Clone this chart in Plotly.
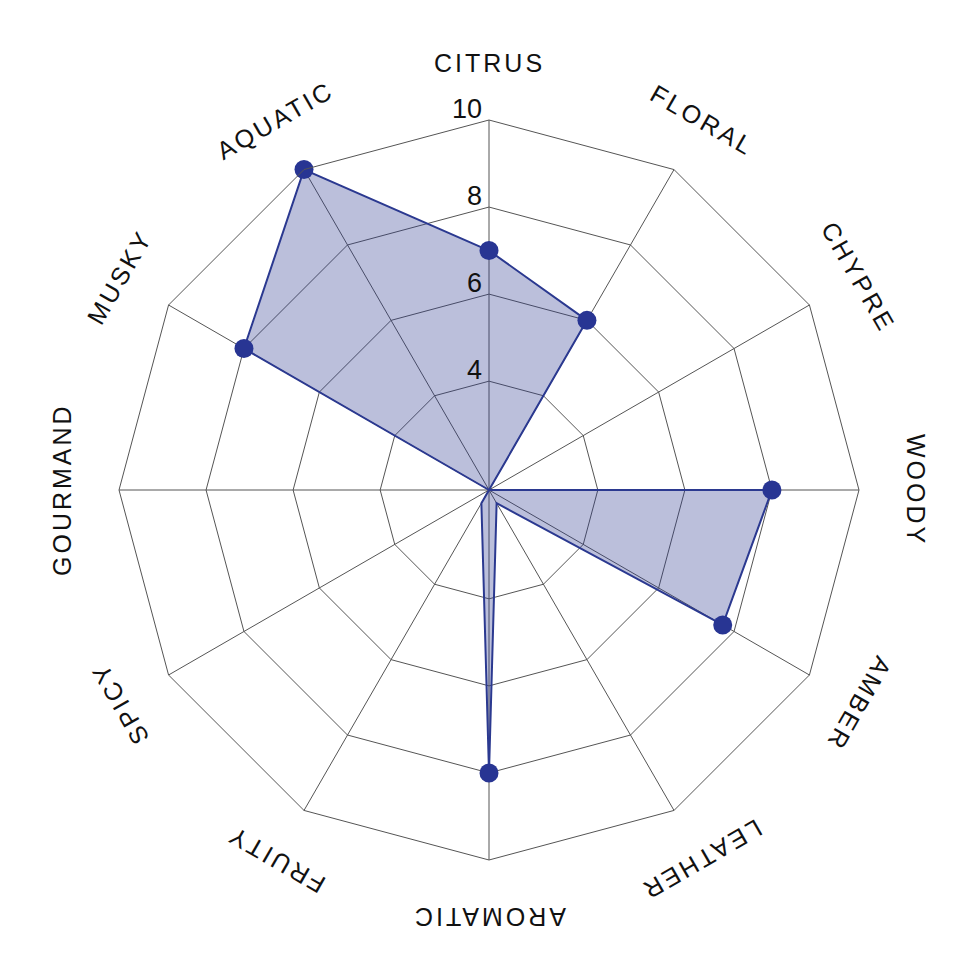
import numpy as np
import plotly.graph_objects as go

# scent families, clockwise from the top
categories = ['CITRUS', 'FLORAL', 'CHYPRE', 'WOODY', 'AMBER', 'LEATHER',
              'AROMATIC', 'FRUITY', 'SPICY', 'GOURMAND', 'MUSKY', 'AQUATIC']
scores = [7, 6, 0, 8, 7.7, 1.85, 8, 1.85, 0, 0, 8, 10]

tick_vals = [4, 6, 8, 10]
tick_text = ['4', '6', '8', '10']
r_range = [1.5, 10]

LINE = '#2b3990'
GRID = '#555555'
FONT = 'Liberation Sans'

# closed polygon
r_closed = scores + scores[:1]
theta_closed = categories + categories[:1]

fig = go.Figure()

fig.add_trace(go.Scatterpolar(
    r=r_closed, theta=theta_closed,
    mode='lines',
    fill='toself',
    fillcolor='rgba(43,57,144,0.32)',
    line=dict(color=LINE, width=2),
    hoverinfo='skip',
))

# dots only where the score is visible
dot_r = [v for v in scores if v >= 4]
dot_t = [c for c, v in zip(categories, scores) if v >= 4]
fig.add_trace(go.Scatterpolar(
    r=dot_r, theta=dot_t,
    mode='markers',
    marker=dict(color='#283593', size=19),
    hoverinfo='skip',
))

# polar area: centre at (489, 490) px on the page, radius 370 px
# (page has an 8px body margin)
W = 980
cx, cy, R = 481, 482, 370
dom_x = [(cx - R) / W, (cx + R) / W]
dom_y = [1 - (cy + R) / W, 1 - (cy - R) / W]

fig.update_layout(
    width=W, height=W,
    margin=dict(l=0, r=0, t=0, b=0),
    paper_bgcolor='white',
    plot_bgcolor='white',
    showlegend=False,
    hovermode=False,
    polar=dict(
        domain=dict(x=dom_x, y=dom_y),
        bgcolor='white',
        gridshape='linear',
        angularaxis=dict(
            direction='clockwise', rotation=90,
            showticklabels=False, ticks='',
            showline=True, linecolor=GRID, linewidth=1,
            gridcolor=GRID, gridwidth=1,
        ),
        radialaxis=dict(
            range=r_range, tickvals=tick_vals,
            showticklabels=False, ticks='', showline=False,
            gridcolor=GRID, gridwidth=1,
        ),
    ),
)

# radial tick numbers, just left of the CITRUS spoke and sitting on each ring
for v, t in zip(tick_vals, tick_text):
    ry = cy - R * (v - r_range[0]) / (r_range[1] - r_range[0])
    fig.add_annotation(
        x=(cx - 5) / W, y=1 - (ry + 6) / W, xref='paper', yref='paper',
        text=t, showarrow=False,
        xanchor='right', yanchor='bottom',
        font=dict(family=FONT, size=27, color='#111111'),
    )

# category names, rotated along the rim
L = 427
for i, name in enumerate(categories):
    ang = i * 360 / len(categories)
    a = np.radians(ang)
    px = cx + L * np.sin(a)
    py = cy - L * np.cos(a)
    fig.add_annotation(
        x=px / W, y=1 - py / W, xref='paper', yref='paper',
        text='<span style="letter-spacing:3px">%s</span>' % name,
        showarrow=False, textangle=ang,
        xanchor='center', yanchor='middle',
        font=dict(family=FONT, size=25, color='#111111'),
    )

fig.write_html('out.html')
